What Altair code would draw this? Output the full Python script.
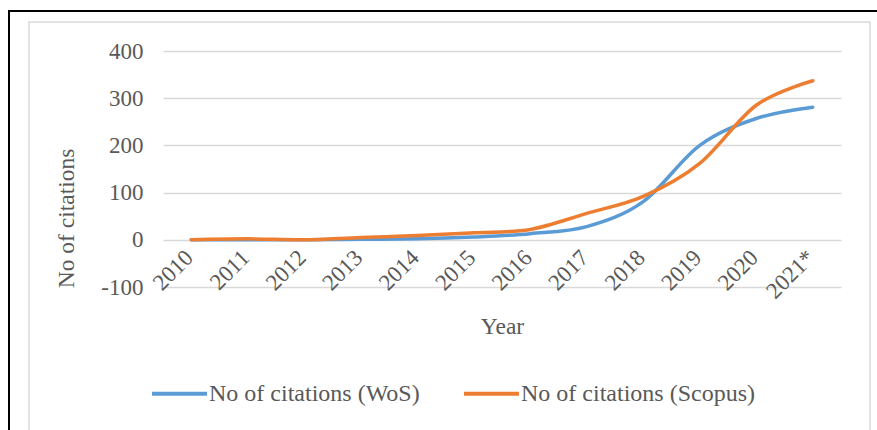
import altair as alt
import pandas as pd

years = ["2010", "2011", "2012", "2013", "2014", "2015", "2016", "2017", "2018", "2019", "2020", "2021*"]
wos = [0, 0, 0, 1, 2, 6, 13, 28, 81, 200, 257, 281]
scopus = [0, 2, 0, 5, 9, 15, 22, 56, 92, 162, 285, 337]
series_names = ["No of citations (WoS)", "No of citations (Scopus)"]
colors = ["#5B9BD5", "#ED7D31"]

rows = []
for i, y in enumerate(years):
    rows.append({"Year": y, "Series": series_names[0], "Value": wos[i], "order": i})
    rows.append({"Year": y, "Series": series_names[1], "Value": scopus[i], "order": i})
df = pd.DataFrame(rows)

FONT = "Liberation Serif"
TXT = "#595959"

lines = alt.Chart(df).mark_line(interpolate="cardinal", strokeWidth=3.5, strokeCap="round").encode(
    x=alt.X("Year:O", sort=years, scale=alt.Scale(type="point", padding=0.5),
            axis=alt.Axis(title="Year", labelAngle=-45, labelFontSize=23, labelFont=FONT,
                          labelColor=TXT, titleFont=FONT, titleFontSize=23.5, titleColor=TXT,
                          titleFontWeight="normal", domain=False, ticks=False, grid=False,
                          offset=-47, labelPadding=6, labelOffset=-10,
                          titleBaseline="alphabetic", titleY=93)),
    y=alt.Y("Value:Q", scale=alt.Scale(domain=[-100, 400], nice=False),
            axis=alt.Axis(title="No of citations", values=[-100, 0, 100, 200, 300, 400],
                          labelExpr="'' + datum.value",
                          labelFontSize=23, labelFont=FONT, labelColor=TXT,
                          titleFont=FONT, titleFontSize=23.5, titleColor=TXT, titleFontWeight="normal",
                          domain=False, ticks=False, labelPadding=20, gridColor="#d9d9d9",
                          gridWidth=1.5, titleAngle=-90, titleX=-97, titleY=167,
                          titleAlign="center", titleBaseline="middle")),
    color=alt.Color("Series:N", sort=series_names,
                    scale=alt.Scale(domain=series_names, range=colors),
                    legend=alt.Legend(title=None, orient="none", direction="horizontal",
                                      legendX=-13, legendY=313, symbolType="stroke",
                                      symbolSize=3025, symbolStrokeWidth=4, labelFont=FONT,
                                      labelFontSize=24, labelColor=TXT, labelOffset=0,
                                      columnPadding=36, labelLimit=400)),
    order="order:Q",
)

frame_df = pd.DataFrame({"k": [0]})
black = alt.Chart(frame_df).mark_rect(fill=None, stroke="#000000", strokeWidth=2).encode(
    x=alt.value(-154), x2=alt.value(740), y=alt.value(-40), y2=alt.value(400))
gray = alt.Chart(frame_df).mark_rect(fill=None, stroke="#d9d9d9", strokeWidth=1.5).encode(
    x=alt.value(-134), x2=alt.value(707), y=alt.value(-29), y2=alt.value(400))

chart = alt.layer(black, gray, lines).properties(
    width=678, height=236,
    autosize=alt.AutoSizeParams(type="none"),
    padding={"left": 163, "top": 51, "right": 36, "bottom": 143},
    background="white",
).configure_view(stroke=None)

chart.save("out.html", embed_options={"renderer": "svg", "actions": False})
